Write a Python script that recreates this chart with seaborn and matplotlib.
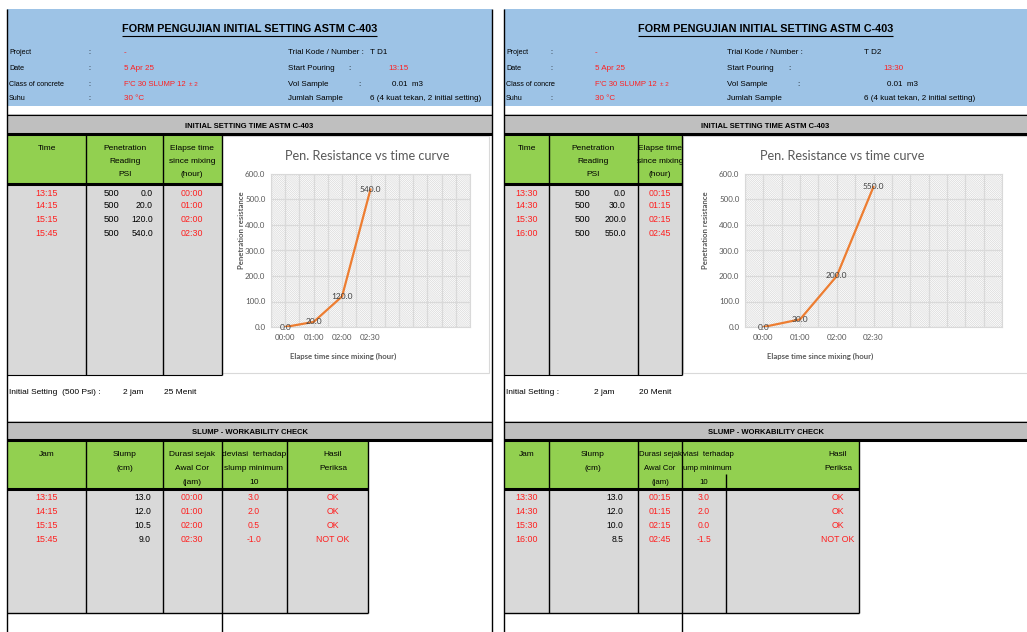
import matplotlib
matplotlib.use("Agg")
import matplotlib.pyplot as plt
import seaborn as sns
import pandas as pd
from matplotlib.patches import Rectangle

# ---------------- data ----------------
title_text = "FORM PENGUJIAN INITIAL SETTING ASTM C-403"
section1 = "INITIAL SETTING TIME ASTM C-403"
section2 = "SLUMP - WORKABILITY CHECK"
chart_title = "Pen. Resistance vs time curve"
chart_xlabel = "Elapse time since mixing (hour)"
chart_ylabel = "Penetration resistance"
chart_x = ["00:00", "01:00", "02:00", "02:30"]
n_chart_cats = 7
y_ticks = [0, 100, 200, 300, 400, 500, 600]

# panel 1 (T D1)
times1 = ["13:15", "14:15", "15:15", "15:45"]
psi_ref1 = [500, 500, 500, 500]
pen1 = [0.0, 20.0, 120.0, 540.0]
elapse1 = ["00:00", "01:00", "02:00", "02:30"]
slump1 = [13.0, 12.0, 10.5, 9.0]
dev1 = [3.0, 2.0, 0.5, -1.0]
hasil1 = ["OK", "OK", "OK", "NOT OK"]

# panel 2 (T D2)
times2 = ["13:30", "14:30", "15:30", "16:00"]
psi_ref2 = [500, 500, 500, 500]
pen2 = [0.0, 30.0, 200.0, 550.0]
elapse2 = ["00:15", "01:15", "02:15", "02:45"]
slump2 = [13.0, 12.0, 10.0, 8.5]
dev2 = [3.0, 2.0, 0.0, -1.5]
hasil2 = ["OK", "OK", "OK", "NOT OK"]

# ---------------- style ----------------
sns.set_theme(style="white")
plt.rcParams['font.family'] = ['Liberation Sans Narrow', 'Liberation Sans', 'DejaVu Sans']
plt.rcParams['hatch.linewidth'] = 0.45
plt.rcParams['hatch.color'] = '#d6d6d6'

BLUE = '#9DC3E6'
GRAYBAR = '#BFBFBF'
GREEN = '#92D050'
CELL = '#D9D9D9'
RED = '#FF1F1F'
ORANGE = '#ED7D31'
CGRAY = '#595959'
FS = 6.0

W, H = 1027, 632
fig = plt.figure(figsize=(W / 100, H / 100), dpi=100)
bg = fig.add_axes([0, 0, 1, 1])
bg.set_xlim(0, W)
bg.set_ylim(H, 0)
bg.axis('off')


def box(x0, y0, x1, y1, fc, ec='none', lw=0, z=1):
    bg.add_patch(Rectangle((x0, y0), x1 - x0, y1 - y0, facecolor=fc,
                           edgecolor=ec, linewidth=lw, zorder=z))


def vl(x, y0, y1, lw=0.8, c='black'):
    bg.plot([x, x], [y0, y1], color=c, lw=lw, solid_capstyle='butt', zorder=3)


def hl(y, x0, x1, lw=0.8, c='black'):
    bg.plot([x0, x1], [y, y], color=c, lw=lw, solid_capstyle='butt', zorder=3)


def t(x, y, s, ha='left', c='black', size=FS, weight='normal', family=None):
    kw = {}
    if family:
        kw['family'] = family
    return bg.text(x, y, s, ha=ha, va='center', color=c, fontsize=size,
                   fontweight=weight, zorder=5, **kw)


def px_axes(l, tp, r, b):
    return fig.add_axes([l / W, 1 - b / H, (r - l) / W, (b - tp) / H])


def draw_chart(ax, vals):
    df = pd.DataFrame({'pos': list(range(len(chart_x))), 'val': vals})
    ax.set_facecolor('white')
    ax.add_patch(Rectangle((0, 0), 1, 1, transform=ax.transAxes, facecolor='white',
                           hatch='\\' * 16, edgecolor='#d6d6d6', linewidth=0, zorder=0))
    for xv in [i * 0.5 - 0.5 for i in range(2 * n_chart_cats + 1)]:
        ax.axvline(xv, color='#d9d9d9', lw=0.9, zorder=1)
    for yv in y_ticks:
        ax.axhline(yv, color='#d9d9d9', lw=0.9, zorder=1)
    sns.lineplot(data=df, x='pos', y='val', color=ORANGE, lw=1.6, ax=ax, zorder=3)
    for p, v in zip(df['pos'], df['val']):
        ax.text(p, v, f"{v:.1f}", ha='center', va='center', fontsize=6,
                color='#404040', family='Lato', zorder=4)
    ax.set_xlim(-0.5, n_chart_cats - 0.5)
    ax.set_ylim(0, 600)
    ax.set_xticks(range(len(chart_x)))
    ax.set_xticklabels(chart_x, family='Lato', fontsize=5.8, color=CGRAY)
    ax.set_yticks(y_ticks)
    ax.set_yticklabels([f"{v:.1f}" for v in y_ticks], family='Lato', fontsize=5.8, color=CGRAY)
    ax.tick_params(axis='both', length=0)
    ax.tick_params(axis='x', pad=5)
    ax.tick_params(axis='y', pad=4)
    ax.set_xlabel('')
    ax.set_ylabel('')
    for s in ax.spines.values():
        s.set_color('#d9d9d9')
        s.set_linewidth(0.8)


def panel(L, R, hdr, cols, psi_ref, pen, times, elapse, slump, dev, hasil, scol, chart_box, plot_box,
          txt):
    # header (blue)
    box(L, 9, R, 106, BLUE)
    tt = t((L + R) / 2, 29, title_text, ha='center', size=7.8, weight='bold')
    txt['titles'].append((tt, 36))
    rows_y = [53, 68, 84, 99]
    for (lab, val, valc, right_lab, right_colon, right_val), y in zip(hdr['rows'], rows_y):
        t(hdr['lab'], y, lab, size=5.1)
        t(hdr['colon'], y, ':', size=5.1)
        if val == 'FC':
            tv = t(hdr['val'], y, "F'C 30 SLUMP 12", c=RED, size=5.6)
            txt['fc'].append((tv, y))
        else:
            t(hdr['val'], y, val, c=valc, size=5.8)
        t(hdr['k2'], y, right_lab, size=5.8)
        if right_colon is not None:
            t(right_colon, y, ':', size=5.8)
        if right_val is not None:
            t(right_val[0], y, right_val[1], c=right_val[2], size=5.8)
    # section bar
    box(L, 114, R, 134, GRAYBAR)
    hl(114.5, L, R, lw=0.8)
    hl(133.5, L, R, lw=2.2)
    t((L + R) / 2, 126, section1, ha='center', size=5.5, weight='bold')
    # initial setting table
    c0, c1, c2, c3 = cols
    box(c0, 134, c3, 183, GREEN)
    box(c0, 183, c3, 375, CELL)
    hl(183.5, c0, c3, lw=2.2)
    hl(374.5, c0, c3, lw=0.8)
    for cx in (c1, c2, c3):
        vl(cx, 134, 375, lw=1.0)
    xc_time, xc_pen, xc_el, x500, xval = hdr['tcols']
    t(xc_time, 148, 'Time', ha='center')
    for s, y in zip(['Penetration', 'Reading', 'PSI'], [148, 161.5, 175]):
        t(xc_pen, y, s, ha='center')
    for s, y in zip(['Elapse time', 'since mixing', '(hour)'], [148, 161.5, 175]):
        t(xc_el, y, s, ha='center')
    for i, y in enumerate([193, 206, 220, 233]):
        t(xc_time, y, times[i], ha='center', c=RED, size=6.4)
        t(x500, y, str(psi_ref[i]), ha='center', size=6.8, family=['Liberation Sans'])
        t(xval, y, f"{pen[i]:.1f}", ha='right', size=6.2, family=['Liberation Sans'])
        t(xc_el, y, elapse[i], ha='center', c=RED, size=6.4)
    # chart area
    cl, ct, cr, cb = chart_box
    box(cl, ct, cr, cb, 'white', ec='#d9d9d9', lw=0.8, z=1)
    ax = px_axes(*plot_box)
    draw_chart(ax, pen)
    t(hdr['ctitle_x'], 156, chart_title, ha='center', size=9.2, c=CGRAY, family=['Lato'])
    t(hdr['cxl_x'], 356, chart_xlabel, ha='center', size=5.6, c=CGRAY, weight='bold', family=['Lato'])
    bg.text(hdr['cyl_x'], 230, chart_ylabel, rotation=90, ha='center', va='center', fontsize=5.6,
            color=CGRAY, family=['Lato'], fontweight='bold', zorder=5)
    # initial setting summary
    for x, s in hdr['init']:
        t(x, 392, s)
    # slump section
    box(L, 421, R, 440, GRAYBAR)
    hl(421.5, L, R, lw=0.8)
    hl(439.5, L, R, lw=2.2)
    t((L + R) / 2, 432, section2, ha='center', size=5.5, weight='bold')
    s0, s1, s2, s3, s4, s5 = scol['cols']
    box(s0, 440, s5, 488, GREEN)
    box(s0, 488, s5, 613, CELL)
    hl(488.5, s0, s5, lw=2.2)
    hl(613, s0, s5, lw=1.0)
    for cx in (s1, s2, s3, s5):
        vl(cx, 440, 613, lw=1.0)
    vl(s4, scol['s4top'], 613, lw=1.0)
    vl(s3, 613, 632, lw=1.0)
    hy = [454.5, 468.5, 482]
    t(scol['jam'], hy[0], 'Jam', ha='center')
    t(scol['slump_h'], hy[0], 'Slump', ha='center')
    t(scol['slump_h'], hy[1], '(cm)', ha='center')
    for s, y in zip(['Durasi sejak', 'Awal Cor', '(jam)'], hy):
        t(scol['dur'], y, s, ha='center', size=scol['dur_fs'])
    for (s, x, ha), y in zip(scol['dev_h'], hy):
        t(x, y, s, ha=ha, size=scol['dur_fs'])
    t(scol['hasil'], hy[0], 'Hasil', ha='center')
    t(scol['hasil'], hy[1], 'Periksa', ha='center')
    for i, y in enumerate([498, 512, 526, 540]):
        t(scol['jam'], y, times[i], ha='center', c=RED, size=6.4)
        t(scol['slump_v'], y, f"{slump[i]:.1f}", ha='right', size=6.2, family=['Liberation Sans'])
        t(scol['dur'], y, elapse[i], ha='center', c=RED, size=6.4)
        t(scol['dev'], y, f"{dev[i]:.1f}", ha='center', c=RED, size=6.2, family=['Liberation Sans'])
        t(scol['hasil'], y, hasil[i], ha='center', c=RED, size=6.3)
    # panel borders
    vl(L, 9, 632, lw=1.0)


txt = {'titles': [], 'fc': []}

hdr1 = {
    'lab': 9, 'colon': 88, 'val': 124, 'k2': 288,
    'rows': [
        ('Project', '-', RED, 'Trial Kode / Number :', None, (370, 'T D1', 'black')),
        ('Date', '5 Apr 25', RED, 'Start Pouring', 348, (388, '13:15', RED)),
        ('Class of concrete', 'FC', RED, 'Vol Sample', 358, (392, '0.01  m3', 'black')),
        ('Suhu', '30 °C', RED, 'Jumlah Sample', None, (370, '6 (4 kuat tekan, 2 initial setting)', 'black')),
    ],
    'tcols': (47, 125, 192, 112, 153),
    'ctitle_x': 367, 'cxl_x': 343, 'cyl_x': 242,
    'init': [(9, 'Initial Setting  (500 Psi) :'), (123, '2 jam'), (164, '25 Menit')],
}
scol1 = {
    'cols': (7, 86, 163, 222, 287, 368), 's4top': 440, 'dur_fs': 6.0,
    'jam': 47, 'slump_h': 125, 'slump_v': 151, 'dur': 192, 'dev': 254, 'hasil': 333,
    'dev_h': [('deviasi  terhadap', 254, 'center'), ('slump minimum', 254, 'center'), ('10', 254, 'center')],
}
panel(7, 492, hdr1, (7, 86, 163, 222), psi_ref1, pen1, times1, elapse1, slump1, dev1, hasil1,
      scol1, (222, 136, 489, 373), (271, 174, 470, 327), txt)
vl(492, 9, 632, lw=1.0)

hdr2 = {
    'lab': 506, 'colon': 550, 'val': 595, 'k2': 727,
    'rows': [
        ('Project', '-', RED, 'Trial Kode / Number :', None, (864, 'T D2', 'black')),
        ('Date', '5 Apr 25', RED, 'Start Pouring', 788, (883, '13:30', RED)),
        ('Class of concre', 'FC', RED, 'Vol Sample', 797, (887, '0.01  m3', 'black')),
        ('Suhu', '30 °C', RED, 'Jumlah Sample', None, (864, '6 (4 kuat tekan, 2 initial setting)', 'black')),
    ],
    'tcols': (527, 593, 660, 583, 626),
    'ctitle_x': 842, 'cxl_x': 820, 'cyl_x': 705,
    'init': [(506, 'Initial Setting :'), (594, '2 jam'), (639, '20 Menit')],
}
scol2 = {
    'cols': (504, 549, 638, 682, 726, 859), 's4top': 474, 'dur_fs': 5.6,
    'jam': 527, 'slump_h': 593, 'slump_v': 623, 'dur': 660, 'dev': 704, 'hasil': 838,
    'dev_h': [('viasi  terhadap', 683, 'left'), ('ump minimum', 683, 'left'), ('10', 704, 'center')],
}
panel(504, W, hdr2, (504, 549, 638, 682), psi_ref2, pen2, times2, elapse2, slump2, dev2, hasil2,
      scol2, (683, 136, W + 2, 373), (745, 174, 1002, 327), txt)

# underline titles and "± 2" suffix
fig.canvas.draw()
inv = bg.transData.inverted()
for tt, y in txt['titles']:
    bb = tt.get_window_extent()
    (x0, _), (x1, _) = inv.transform([(bb.x0, 0), (bb.x1, 0)])
    hl(y, x0, x1, lw=0.8)
for tv, y in txt['fc']:
    bb = tv.get_window_extent()
    (x1, _), = inv.transform([(bb.x1, 0)])
    t(x1 + 3, y + 0.5, '± 2', c=RED, size=4.6)

fig.savefig('out.png', dpi=100)
